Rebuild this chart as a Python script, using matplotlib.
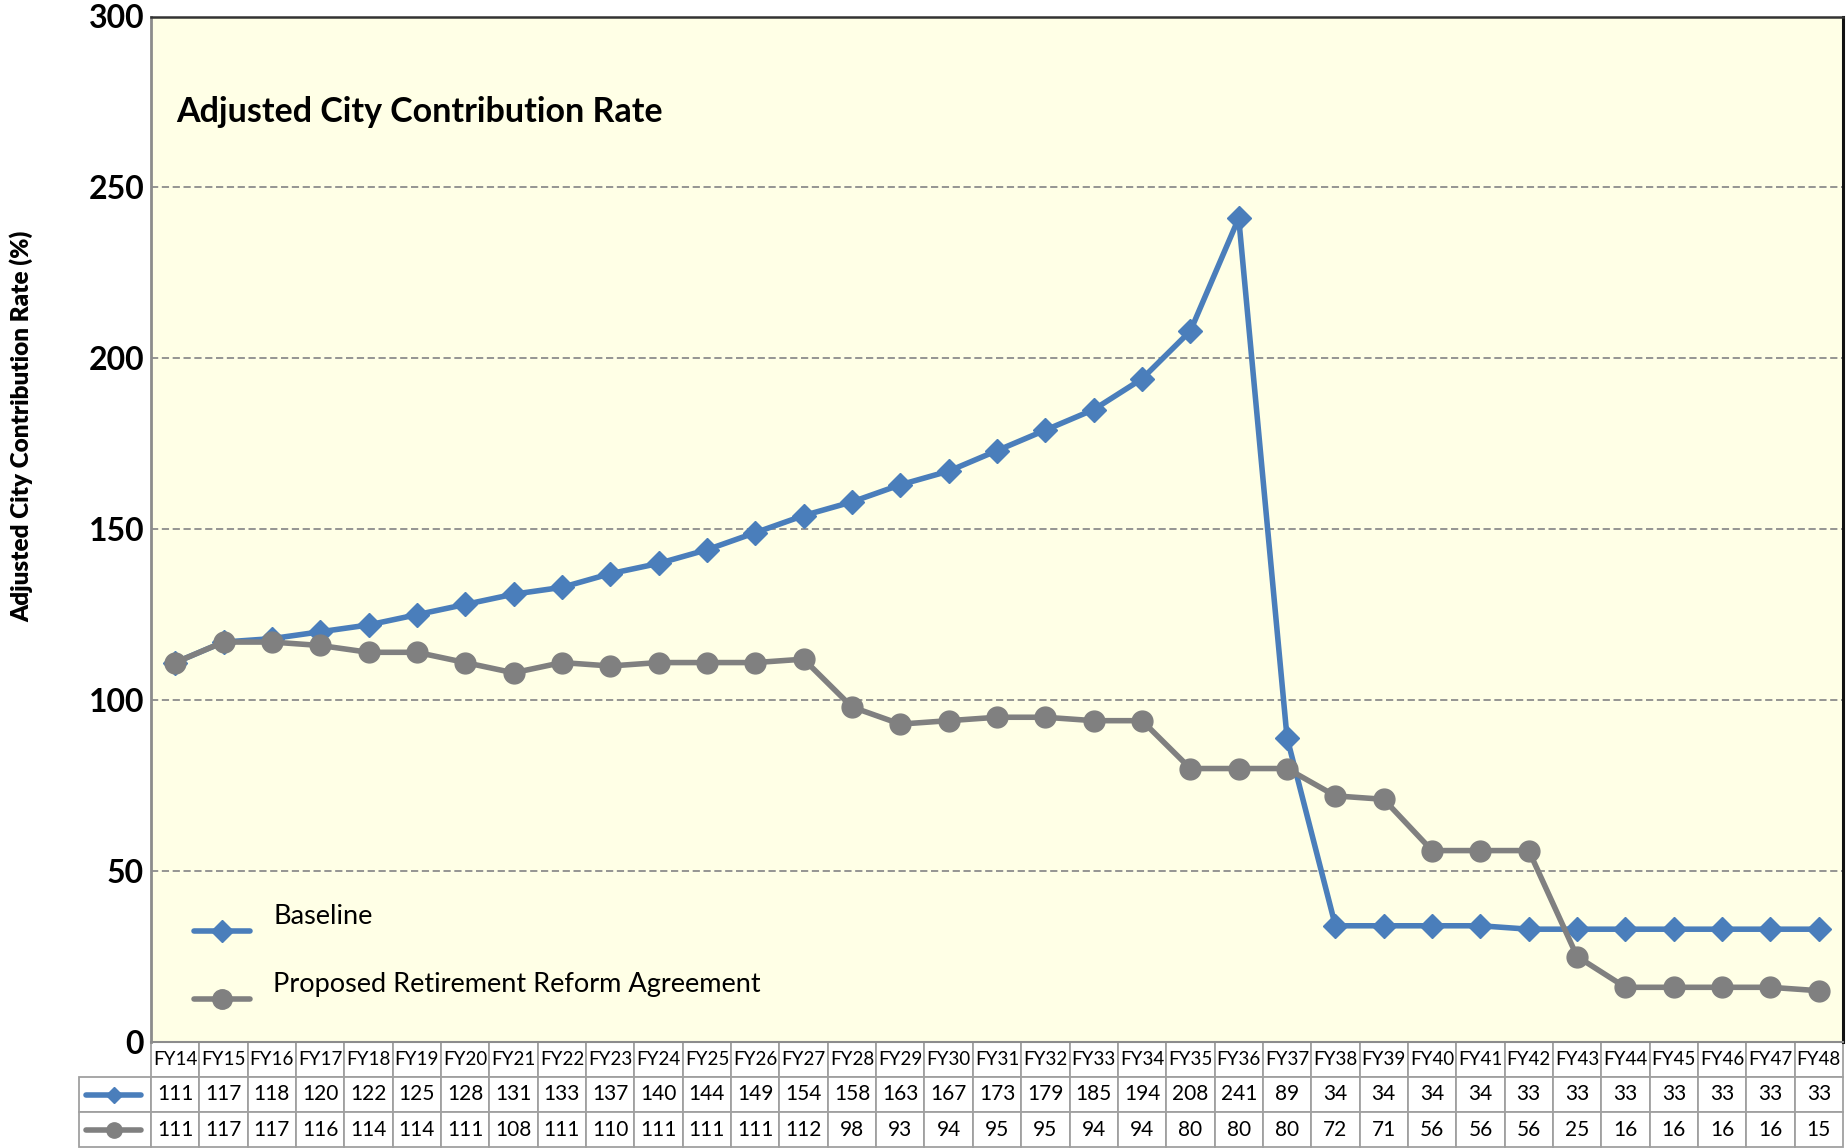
import matplotlib.pyplot as plt
from matplotlib.lines import Line2D
from matplotlib.table import Table

years = [f"FY{y}" for y in range(14, 49)]
baseline = [111, 117, 118, 120, 122, 125, 128, 131, 133, 137, 140, 144, 149, 154, 158,
            163, 167, 173, 179, 185, 194, 208, 241, 89, 34, 34, 34, 34, 33, 33, 33, 33,
            33, 33, 33]
proposed = [111, 117, 117, 116, 114, 114, 111, 108, 111, 110, 111, 111, 111, 112, 98,
            93, 94, 95, 95, 94, 94, 80, 80, 80, 72, 71, 56, 56, 56, 25, 16, 16, 16, 16, 15]
series_names = ["Baseline", "Proposed Retirement Reform Agreement"]
yticks = [0, 50, 100, 150, 200, 250, 300]

BLUE = "#4A7EBB"
GREY = "#808080"
FONT = "Lato"

plt.rcParams["font.family"] = [FONT, "DejaVu Sans"]

W, H = 1847, 1148
fig = plt.figure(figsize=(W / 100, H / 100), dpi=100)
fig.patch.set_facecolor("white")

# axes box in pixels
left, right, top, bottom = 151, 1843, 16.5, 1042
ax_w, ax_h = right - left, bottom - top
ax = fig.add_axes([left / W, 1 - bottom / H, ax_w / W, ax_h / H])
ax.set_facecolor("#FFFFE6")

styles = [dict(color=BLUE, marker="D", ms=12), dict(color=GREY, marker="o", ms=15)]

x = list(range(len(years)))
for vals, st in zip([baseline, proposed], styles):
    ax.plot(x, vals, lw=4, mec=st["color"], mfc=st["color"], zorder=3, **st)

ax.set_xlim(-0.5, len(years) - 0.5)
ax.set_ylim(yticks[0], yticks[-1])
ax.set_yticks(yticks)
ax.set_yticklabels([str(t) for t in yticks], fontsize=23, fontweight="bold")
ax.tick_params(axis="y", length=0, pad=5)
ax.set_xticks([])
ax.grid(axis="y", color="#8C8C8C", linestyle=(0, (4, 2)), linewidth=1.3)
ax.set_axisbelow(True)

ax.spines["left"].set_color("#8C8C8C")
ax.spines["left"].set_linewidth(2)
ax.spines["bottom"].set_color("#8C8C8C")
ax.spines["bottom"].set_linewidth(1.5)
ax.spines["top"].set_color("#333333")
ax.spines["top"].set_linewidth(1.8)
ax.spines["right"].set_color("#111111")
ax.spines["right"].set_linewidth(2.2)

ax.set_ylabel("Adjusted City Contribution Rate (%)", fontsize=17.5, fontweight="heavy")
ax.yaxis.set_label_coords(-0.0697, 0.6)

ax.text(0.015, 0.907, "Adjusted City Contribution Rate", transform=ax.transAxes,
        fontsize=24.5, fontweight="bold", va="center", ha="left")

# legend drawn like the Excel one: key line with the label set slightly above it
for i, (name, st) in enumerate(zip(series_names, styles)):
    ly = 0.1086 - i * 0.0666
    ax.add_line(Line2D([0.0254, 0.0585], [ly, ly], transform=ax.transAxes, lw=4,
                       color=st["color"], solid_capstyle="round"))
    ax.add_line(Line2D([0.042], [ly], transform=ax.transAxes, color=st["color"],
                       marker=st["marker"], ms=st["ms"] - 1))
    ax.text(0.0723, ly + 0.0138, name, transform=ax.transAxes, fontsize=19.5,
            va="center", ha="left")

# data table under the axes
n = len(years)
col_w = 1.0 / n
row_label_w = (151 - 79) / ax_w
tab_h = (1147 - 1042) / ax_h
row_h = tab_h / 3
table = Table(ax, bbox=[0, -tab_h, 1, tab_h])
table.auto_set_font_size(False)
for c, yr in enumerate(years):
    table.add_cell(0, c, width=col_w, height=row_h, text=yr, loc="center")
for r, vals in enumerate([baseline, proposed], start=1):
    table.add_cell(r, -1, width=row_label_w, height=row_h, text="")
    for c, v in enumerate(vals):
        table.add_cell(r, c, width=col_w, height=row_h, text=str(v), loc="center")
for (r, c), cell in table.get_celld().items():
    cell.set_edgecolor("#A0A0A0")
    cell.set_linewidth(1.3)
    cell.set_facecolor("white")
    cell.get_text().set_fontsize(15 if r > 0 else 13.5)
    cell.get_text().set_family([FONT, "DejaVu Sans"])
ax.add_table(table)

# legend keys inside the row-label cells
x0 = -row_label_w + (86 - 79) / ax_w
x1 = -row_label_w + (141 - 79) / ax_w
for i, (st, kms) in enumerate(zip(styles, [8, 11])):
    yc = -row_h * (1.5 + i)
    ax.add_line(Line2D([x0, x1], [yc, yc], transform=ax.transAxes, color=st["color"],
                       lw=4, solid_capstyle="round", clip_on=False))
    ax.add_line(Line2D([(x0 + x1) / 2], [yc], transform=ax.transAxes, color=st["color"],
                       marker=st["marker"], ms=kms, clip_on=False))

fig.savefig("out.png", dpi=100, facecolor="white")
